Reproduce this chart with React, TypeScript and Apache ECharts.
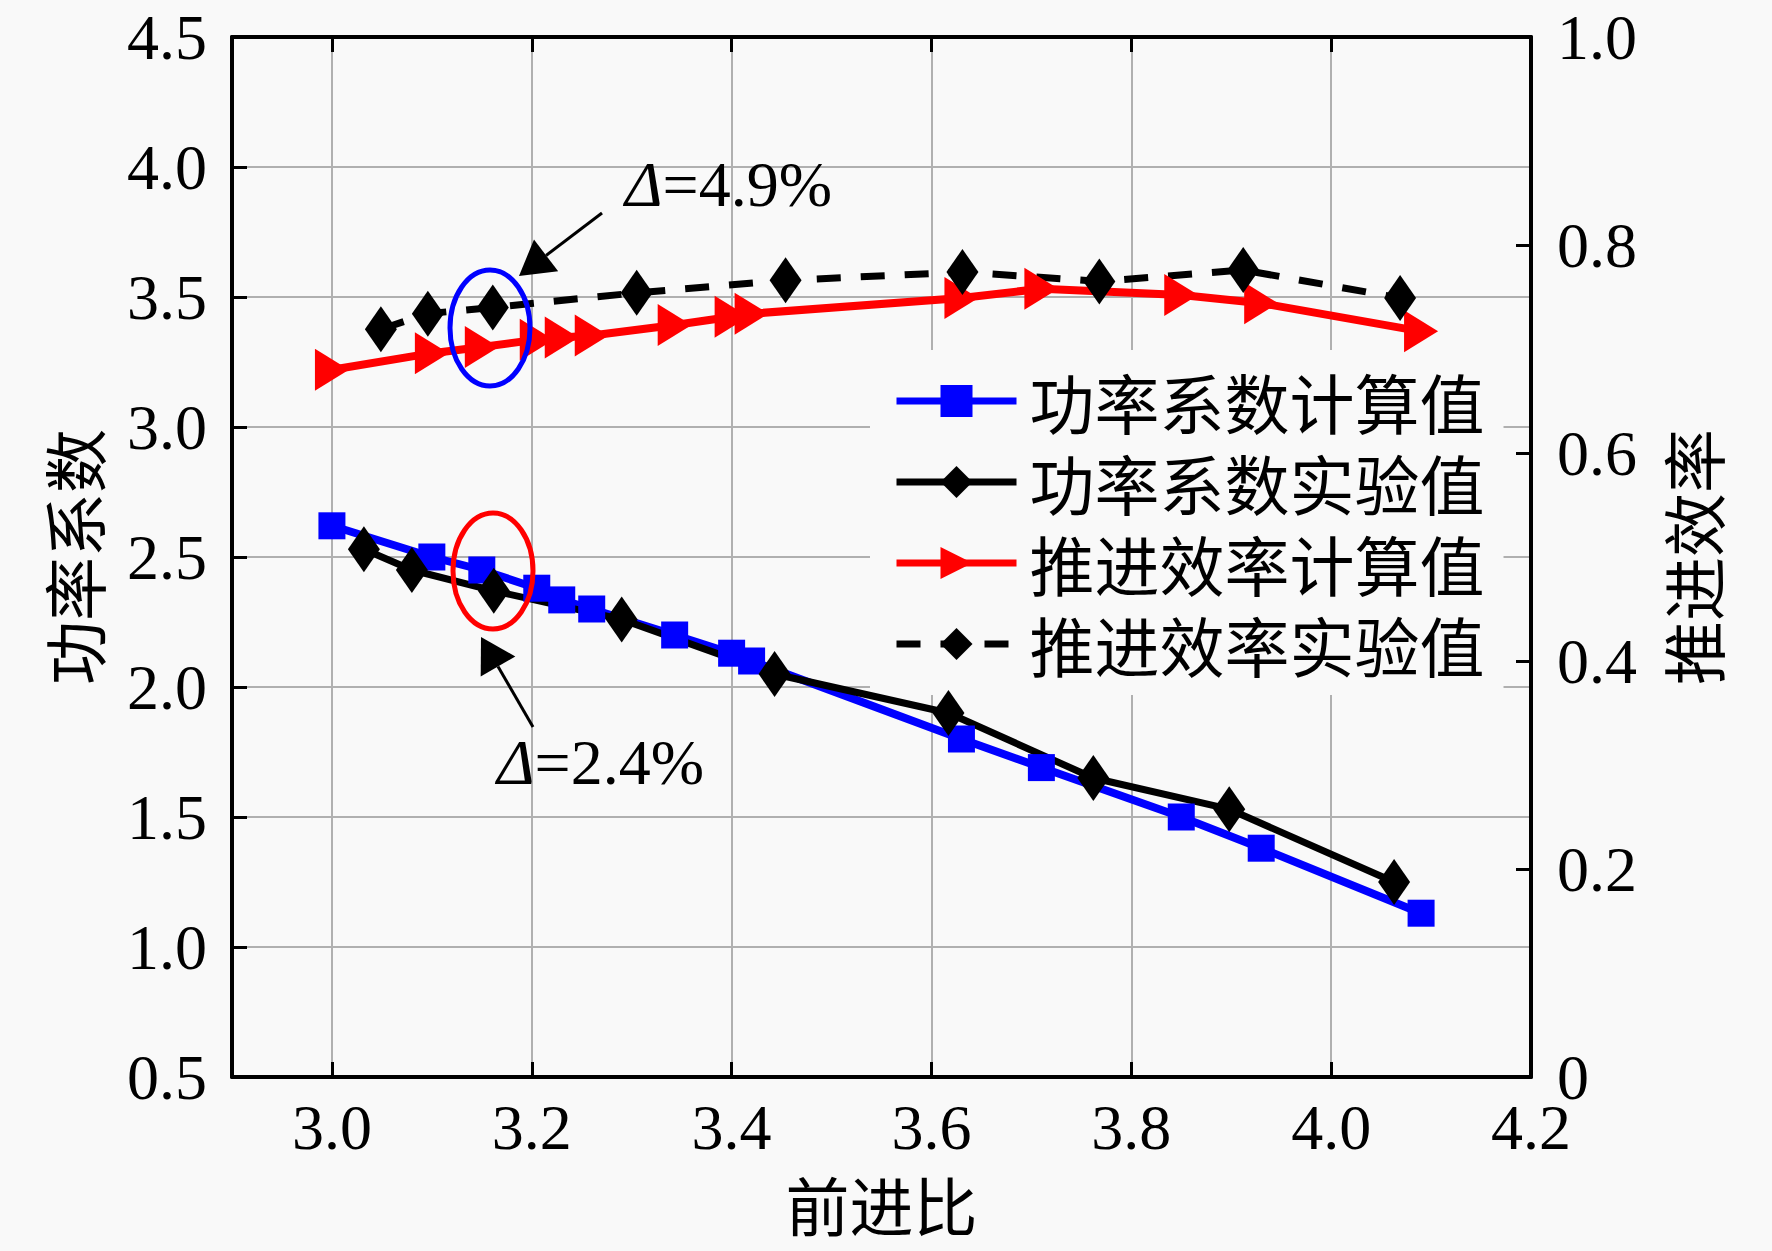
import { useRef, useEffect } from "react";
import * as echarts from "echarts";

// 前进比（计算点）
const calcAdvance = [3.0, 3.1, 3.15, 3.205, 3.23, 3.26, 3.343, 3.4, 3.42, 3.63, 3.71, 3.85, 3.93, 4.09];
// 功率系数计算值
const powerCalc = [2.62, 2.5, 2.45, 2.38, 2.335, 2.3, 2.2, 2.13, 2.1, 1.8, 1.69, 1.5, 1.38, 1.13];
// 推进效率计算值
const effCalc = [0.68, 0.696, 0.702, 0.709, 0.711, 0.713, 0.723, 0.731, 0.734, 0.749, 0.758, 0.752, 0.744, 0.717];

// 功率系数实验值
const powerExpAdvance = [3.032, 3.08, 3.162, 3.29, 3.443, 3.617, 3.762, 3.898, 4.063];
const powerExp = [2.53, 2.45, 2.37, 2.26, 2.05, 1.9, 1.65, 1.53, 1.25];

// 推进效率实验值
const effExpAdvance = [3.049, 3.096, 3.161, 3.305, 3.454, 3.631, 3.768, 3.912, 4.069];
const effExp = [0.719, 0.734, 0.74, 0.754, 0.766, 0.774, 0.765, 0.776, 0.749];

// 横轴刻度
const xTicks = [3.0, 3.2, 3.4, 3.6, 3.8, 4.0, 4.2];

const SERIF = '"Liberation Serif", "Times New Roman", serif';
const CJK = '"Noto Sans CJK SC", "Noto Sans CJK JP", sans-serif';
const BG = "#f9f9f9";
const GRID = "#b0b0b0";

const zip = (xs: number[], ys: number[]) => xs.map((x, i) => [x, ys[i]]);

// 箭头：杆 + 三角头
const arrow = (tail: number[], tip: number[]) => {
  const dx = tip[0] - tail[0];
  const dy = tip[1] - tail[1];
  const len = Math.hypot(dx, dy);
  const ux = dx / len;
  const uy = dy / len;
  const headLen = 34;
  const half = 20;
  const bx = tip[0] - ux * headLen;
  const by = tip[1] - uy * headLen;
  return [
    {
      type: "line",
      shape: { x1: tail[0], y1: tail[1], x2: bx, y2: by },
      style: { stroke: "#000", lineWidth: 3 },
      z: 100,
    },
    {
      type: "polygon",
      shape: {
        points: [
          [tip[0], tip[1]],
          [bx - uy * half, by + ux * half],
          [bx + uy * half, by - ux * half],
        ],
      },
      style: { fill: "#000" },
      z: 100,
    },
  ];
};

const deltaText = (x: number, y: number, val: string) => ({
  type: "text",
  x,
  y,
  z: 100,
  style: {
    text: "{i|Δ}=" + val,
    fontFamily: SERIF,
    fontSize: 64,
    fill: "#000",
    verticalAlign: "middle",
    rich: {
      i: { fontStyle: "italic", fontFamily: SERIF, fontSize: 64, fill: "#000" },
    },
  },
});

const App = () => {
  const chartRef = useRef<HTMLDivElement>(null);

  useEffect(() => {
    const chart = echarts.init(chartRef.current, null, { renderer: "svg" });

    const axisLine = { show: true, onZero: false, lineStyle: { color: "#000", width: 4 } };
    const tick = { show: true, inside: true, length: 15, lineStyle: { color: "#000", width: 3 } };
    const numLabel = { fontFamily: SERIF, fontSize: 64, color: "#000" };
    const nameStyle = { fontFamily: CJK, fontSize: 64, color: "#000" };

    const option = {
      animation: false,
      backgroundColor: BG,
      grid: { left: 232, top: 37, right: 241, bottom: 174 },
      legend: {
        orient: "vertical",
        left: 870,
        top: 350,
        z: 1,
        padding: [18, 19, 18, 23],
        backgroundColor: BG,
        itemWidth: 120,
        itemHeight: 40,
        itemGap: 15,
        selectedMode: false,
        lineStyle: { width: 7 },
        textStyle: { fontFamily: CJK, fontSize: 65, lineHeight: 66, color: "#000", padding: [0, 0, 0, 8] },
        data: ["功率系数计算值", "功率系数实验值", "推进效率计算值", "推进效率实验值"],
      },
      xAxis: [
        {
          type: "value",
          position: "bottom",
          min: 2.9,
          max: 4.2,
          interval: 0.1,
          name: "前进比",
          nameLocation: "middle",
          nameGap: 94,
          nameTextStyle: nameStyle,
          axisLine,
          axisTick: { ...tick, customValues: xTicks },
          axisLabel: {
            ...numLabel,
            margin: 18,
            customValues: xTicks,
            formatter: (v: number) => v.toFixed(1),
          },
          splitLine: { show: true, lineStyle: { color: GRID, width: 2 } },
        },
        {
          type: "value",
          position: "top",
          min: 2.9,
          max: 4.2,
          interval: 0.1,
          axisLine,
          axisTick: { ...tick, customValues: xTicks },
          axisLabel: { show: false },
          splitLine: { show: false },
        },
      ],
      yAxis: [
        {
          type: "value",
          position: "left",
          min: 0.5,
          max: 4.5,
          interval: 0.5,
          name: "功率系数",
          nameLocation: "middle",
          nameRotate: 90,
          nameGap: 128,
          nameTextStyle: nameStyle,
          axisLine,
          axisTick: tick,
          axisLabel: {
            ...numLabel,
            margin: 25,
            formatter: (v: number) => v.toFixed(1),
          },
          splitLine: { show: true, lineStyle: { color: GRID, width: 2 } },
        },
        {
          type: "value",
          position: "right",
          min: 0,
          max: 1,
          interval: 0.2,
          name: "推进效率",
          nameLocation: "middle",
          nameRotate: 90,
          nameGap: 128,
          nameTextStyle: nameStyle,
          axisLine,
          axisTick: tick,
          axisLabel: {
            ...numLabel,
            margin: 26,
            formatter: (v: number) => (v === 0 ? "0" : v.toFixed(1)),
          },
          splitLine: { show: false },
        },
      ],
      series: [
        {
          name: "功率系数计算值",
          type: "line",
          xAxisIndex: 0,
          yAxisIndex: 0,
          data: zip(calcAdvance, powerCalc),
          symbol: "rect",
          symbolSize: 27,
          itemStyle: { color: "#0000ff" },
          lineStyle: { color: "#0000ff", width: 8 },
        },
        {
          name: "功率系数实验值",
          type: "line",
          xAxisIndex: 0,
          yAxisIndex: 0,
          data: zip(powerExpAdvance, powerExp),
          symbol: "diamond",
          symbolSize: [32, 46],
          itemStyle: { color: "#000" },
          lineStyle: { color: "#000", width: 7 },
        },
        {
          name: "推进效率计算值",
          type: "line",
          xAxisIndex: 0,
          yAxisIndex: 1,
          data: zip(calcAdvance, effCalc),
          symbol: "triangle",
          symbolSize: [42, 34],
          symbolRotate: -90,
          itemStyle: { color: "#ff0000" },
          lineStyle: { color: "#ff0000", width: 8 },
        },
        {
          name: "推进效率实验值",
          type: "line",
          xAxisIndex: 0,
          yAxisIndex: 1,
          data: zip(effExpAdvance, effExp),
          symbol: "diamond",
          symbolSize: [32, 46],
          itemStyle: { color: "#000" },
          lineStyle: { color: "#000", width: 7, type: [24, 20] },
        },
      ],
      graphic: [
        {
          type: "ellipse",
          shape: { cx: 490, cy: 328, rx: 40, ry: 58 },
          style: { fill: "none", stroke: "#0000ff", lineWidth: 5 },
          z: 100,
        },
        {
          type: "ellipse",
          shape: { cx: 493, cy: 571, rx: 40, ry: 58 },
          style: { fill: "none", stroke: "#ff0000", lineWidth: 5 },
          z: 100,
        },
        ...arrow([602, 213], [519, 276]),
        ...arrow([533, 727], [481, 637]),
        deltaText(625, 184, "4.9%"),
        deltaText(497, 762, "2.4%"),
      ],
    };

    chart.setOption(option);

    return () => {
      chart.dispose();
    };
  }, []);

  return (
    <div
      ref={chartRef}
      style={{ position: "absolute", left: 0, top: 0, width: "1772px", height: "1251px" }}
    ></div>
  );
};

export default App;
